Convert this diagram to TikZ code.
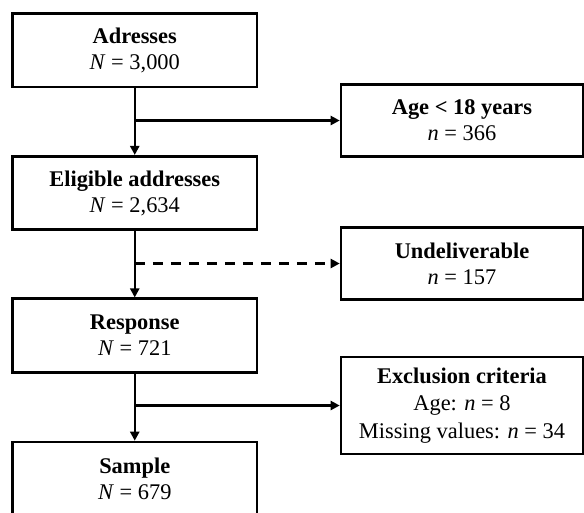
\documentclass[tikz,border=0pt]{standalone}
\usepackage{fontspec}
\setmainfont{Liberation Serif}
\usetikzlibrary{arrows.meta}
\begin{document}
\begin{tikzpicture}[x=1pt,y=-1pt,
  box/.style={draw=black,line width=2.6pt,fill=white,align=center,inner sep=0pt,
    font=\fontsize{22.4}{26}\selectfont},
  leftbox/.style={box,minimum width=244.5pt,minimum height=73.5pt},
  rightbox/.style={box,minimum width=242pt,minimum height=72.5pt},
  conn/.style={line width=2.4pt,-{Triangle[length=9pt,width=9pt]}},
  plain/.style={line width=2.4pt}]
\clip (0,0) rectangle (584,512);
\fill[white] (0,0) rectangle (584,512);
\node[leftbox] (a) at (134.75,50.25) {\textbf{Adresses}\\\textit{N} = 3,000};
\node[leftbox] (b) at (134.75,193) {\textbf{Eligible addresses}\\\textit{N} = 2,634};
\node[leftbox] (c) at (134.75,335.5) {\textbf{Response}\\\textit{N} = 721};
\node[leftbox] (d) at (134.75,478.75) {\textbf{Sample}\\\textit{N} = 679};
\node[rightbox] (e) at (462,120.5) {\textbf{Age < 18 years}\\\textit{n} = 366};
\node[rightbox] (f) at (462,263.5) {\textbf{Undeliverable}\\\textit{n} = 157};
\node[rightbox,minimum height=97pt,font=\fontsize{22.4}{27.5}\selectfont] (g) at (462,405.5) {\textbf{Exclusion criteria}\\Age: \textit{n} = 8\\Missing values: \textit{n} = 34};
\draw[conn] (a.south) -- (b.north);
\draw[conn] (b.south) -- (c.north);
\draw[conn] (c.south) -- (d.north);
\coordinate (j1) at (a.south |- e.west);
\coordinate (j2) at (b.south |- f.west);
\coordinate (j3) at (c.south |- g.west);
\draw[conn] (j1) -- (e.west);
\draw[conn,dash pattern=on 10pt off 8pt] (j2) -- (f.west);
\draw[conn] (j3) -- (g.west);
\end{tikzpicture}
\end{document}
